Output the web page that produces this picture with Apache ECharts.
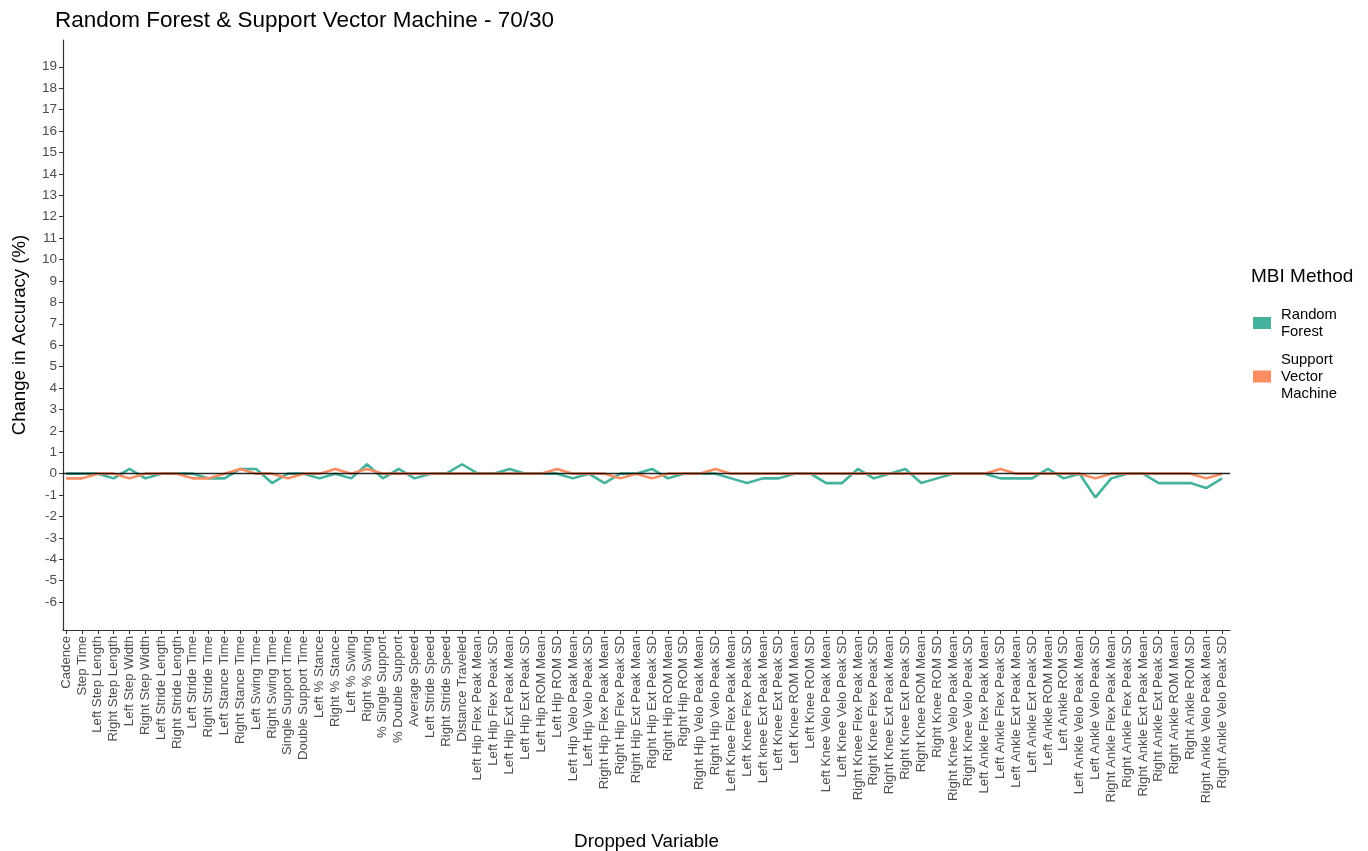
<!DOCTYPE html>
<html>
<head>
<meta charset="utf-8">
<script src="https://cdn.jsdelivr.net/npm/echarts@6/dist/echarts.min.js"></script>
<style>
  html, body { margin: 0; padding: 0; background: #ffffff; }
  #chart { width: 1368px; height: 851px; }
</style>
</head>
<body>
<div id="chart"></div>
<script>
// Dropped variables, in plotting order
const variables = [
  'Cadence', 'Step Time', 'Left Step Length', 'Right Step Length', 'Left Step Width',
  'Right Step Width', 'Left Stride Length', 'Right Stride Length', 'Left Stride Time',
  'Right Stride Time', 'Left Stance Time', 'Right Stance Time', 'Left Swing Time',
  'Right Swing Time', 'Single Support Time', 'Double Support Time', 'Left % Stance',
  'Right % Stance', 'Left % Swing', 'Right % Swing', '% Single Support', '% Double Support',
  'Average Speed', 'Left Stride Speed', 'Right Stride Speed', 'Distance Traveled',
  'Left Hip Flex Peak Mean', 'Left Hip Flex Peak SD', 'Left Hip Ext Peak Mean',
  'Left Hip Ext Peak SD', 'Left Hip ROM Mean', 'Left Hip ROM SD', 'Left Hip Velo Peak Mean',
  'Left Hip Velo Peak SD', 'Right Hip Flex Peak Mean', 'Right Hip Flex Peak SD',
  'Right Hip Ext Peak Mean', 'Right Hip Ext Peak SD', 'Right Hip ROM Mean', 'Right Hip ROM SD',
  'Right Hip Velo Peak Mean', 'Right Hip Velo Peak SD', 'Left Knee Flex Peak Mean',
  'Left Knee Flex Peak SD', 'Left knee Ext Peak Mean', 'Left Knee Ext Peak SD',
  'Left Knee ROM Mean', 'Left Knee ROM SD', 'Left Knee Velo Peak Mean', 'Left Knee Velo Peak SD',
  'Right Knee Flex Peak Mean', 'Right Knee Flex Peak SD', 'Right Knee Ext Peak Mean',
  'Right Knee Ext Peak SD', 'Right Knee ROM Mean', 'Right Knee ROM SD',
  'Right Knee Velo Peak Mean', 'Right Knee Velo Peak SD', 'Left Ankle Flex Peak Mean',
  'Left Ankle Flex Peak SD', 'Left Ankle Ext Peak Mean', 'Left Ankle Ext Peak SD',
  'Left Ankle ROM Mean', 'Left Ankle ROM SD', 'Left Ankle Velo Peak Mean',
  'Left Ankle Velo Peak SD', 'Right Ankle Flex Peak Mean', 'Right Ankle Flex Peak SD',
  'Right Ankle Ext Peak Mean', 'Right Ankle Ext Peak SD', 'Right Ankle ROM Mean',
  'Right Ankle ROM SD', 'Right Ankle Velo Peak Mean', 'Right Ankle Velo Peak SD'
];

// Change in accuracy (%) when each variable is dropped
const randomForest = [
  0, 0, 0, -0.22, 0.22, -0.22, 0, 0, 0, -0.22,
  -0.22, 0.22, 0.22, -0.44, 0, 0, -0.22, 0, -0.22, 0.44,
  -0.22, 0.22, -0.22, 0, 0, 0.44, 0, 0, 0.22, 0,
  0, 0, -0.22, 0, -0.44, 0, 0, 0.22, -0.22, 0,
  0, 0, -0.22, -0.44, -0.22, -0.22, 0, 0, -0.44, -0.44,
  0.22, -0.22, 0, 0.22, -0.44, -0.22, 0, 0, 0, -0.22,
  -0.22, -0.22, 0.22, -0.22, 0, -1.11, -0.22, 0, 0, -0.44,
  -0.44, -0.44, -0.67, -0.22
];
const supportVector = [
  -0.22, -0.22, 0, 0, -0.22, 0, 0, 0, -0.22, -0.22,
  0, 0.22, 0, 0, -0.22, 0, 0, 0.22, 0, 0.22,
  0, 0, 0, 0, 0, 0, 0, 0, 0, 0,
  0, 0.22, 0, 0, 0, -0.22, 0, -0.22, 0, 0,
  0, 0.22, 0, 0, 0, 0, 0, 0, 0, 0,
  0, 0, 0, 0, 0, 0, 0, 0, 0, 0.22,
  0, 0, 0, 0, 0, -0.22, 0, 0, 0, 0,
  0, 0, -0.22, 0
];

// Y tick labels
const yTicks = [-6, -5, -4, -3, -2, -1, 0, 1, 2, 3, 4, 5, 6, 7, 8, 9, 10, 11, 12, 13, 14, 15, 16, 17, 18, 19];

const methodNames = ['Random Forest', 'Support Vector Machine'];
const colors = ['#45b29d', '#fc8d62'];

const xIdx = variables.map((_, i) => i);
const toPoints = arr => arr.map((v, i) => [i, v]);

const chart = echarts.init(document.getElementById('chart'), null, { renderer: 'canvas' });
const font = 'Liberation Sans, Arial, Helvetica, sans-serif';
const axisColor = '#333333';
const labelColor = '#4d4d4d';

chart.setOption({
  animation: false,
  backgroundColor: '#ffffff',
  textStyle: { fontFamily: font },
  title: {
    text: 'Random Forest & Support Vector Machine - 70/30',
    left: 50, top: 4,
    textStyle: { fontFamily: font, fontSize: 22.5, fontWeight: 'normal', color: '#000000' }
  },
  // fixed plot rectangle; axis names and labels sit outside it
  grid: { left: 63, right: 138, top: 40, bottom: 221, containLabel: false, outerBoundsMode: 'none' },
  legend: {
    orient: 'vertical',
    left: 1248, top: 301,
    icon: 'rect',
    itemWidth: 18, itemHeight: 12,
    itemGap: 11,
    data: methodNames,
    formatter: name => name.replace(/ /g, '\n'),
    textStyle: { fontFamily: font, fontSize: 14.8, color: '#000000', lineHeight: 17, padding: [0, 0, 0, 5] }
  },
  graphic: [{
    type: 'text', left: 1251, top: 267,
    style: { text: 'MBI Method', fontFamily: font, fontSize: 19, fill: '#000000' }
  }],
  xAxis: {
    type: 'value',
    min: -0.2, max: 73.5,
    name: 'Dropped Variable',
    nameLocation: 'middle',
    nameGap: 202,
    nameTextStyle: { fontFamily: font, fontSize: 18.8, color: '#000000' },
    splitLine: { show: false },
    axisLine: { show: true, onZero: false, lineStyle: { color: axisColor, width: 1.2 } },
    axisTick: { show: true, length: 4, customValues: xIdx, lineStyle: { color: axisColor } },
    axisLabel: {
      customValues: xIdx,
      rotate: 90,
      margin: 6,
      fontFamily: font, fontSize: 13.2, color: labelColor,
      formatter: v => variables[Math.round(v)] || ''
    }
  },
  yAxis: {
    type: 'value',
    min: -7.3, max: 20.25,
    name: 'Change in Accuracy (%)',
    nameLocation: 'middle',
    nameGap: 34,
    nameTextStyle: { fontFamily: font, fontSize: 18.6, color: '#000000' },
    splitLine: { show: false },
    axisLine: { show: true, onZero: false, lineStyle: { color: axisColor, width: 1.2 } },
    axisTick: { show: true, length: 4, customValues: yTicks, lineStyle: { color: axisColor } },
    axisLabel: {
      customValues: yTicks,
      margin: 6,
      fontFamily: font, fontSize: 13.5, color: labelColor
    }
  },
  series: [
    {
      name: methodNames[0],
      type: 'line',
      data: toPoints(randomForest),
      showSymbol: false,
      color: colors[0],
      itemStyle: { color: colors[0] },
      lineStyle: { color: colors[0], width: 2.6 },
      z: 2
    },
    {
      name: methodNames[1],
      type: 'line',
      data: toPoints(supportVector),
      showSymbol: false,
      color: colors[1],
      itemStyle: { color: colors[1] },
      lineStyle: { color: colors[1], width: 2.6 },
      z: 3,
      markLine: {
        silent: true,
        symbol: 'none',
        label: { show: false },
        lineStyle: { color: '#000000', width: 1.4, type: 'solid', opacity: 0.85 },
        data: [{ yAxis: 0 }],
        z: 5
      }
    }
  ]
});
</script>
</body>
</html>
